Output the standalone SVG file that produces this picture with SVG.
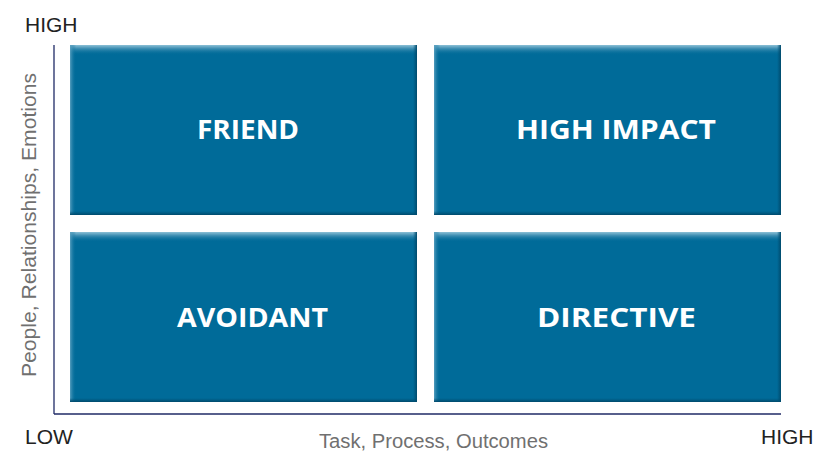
<svg xmlns="http://www.w3.org/2000/svg" width="827" height="451" viewBox="0 0 827 451">
  <defs>
    <linearGradient id="topBevel" x1="0" y1="0" x2="0" y2="1">
      <stop offset="0" stop-color="#8cc0d6"/>
      <stop offset="0.35" stop-color="#3f8fb3"/>
      <stop offset="1" stop-color="#006b99" stop-opacity="0"/>
    </linearGradient>
    <linearGradient id="leftBevel" x1="0" y1="0" x2="1" y2="0">
      <stop offset="0" stop-color="#5fa3c2" stop-opacity="0.9"/>
      <stop offset="1" stop-color="#006b99" stop-opacity="0"/>
    </linearGradient>
    <linearGradient id="bottomBevel" x1="0" y1="0" x2="0" y2="1">
      <stop offset="0" stop-color="#004f73" stop-opacity="0"/>
      <stop offset="1" stop-color="#004a6c"/>
    </linearGradient>
    <linearGradient id="rightBevel" x1="0" y1="0" x2="1" y2="0">
      <stop offset="0" stop-color="#004f73" stop-opacity="0"/>
      <stop offset="1" stop-color="#004a6c"/>
    </linearGradient>
    <symbol id="tile" viewBox="0 0 347 170" width="347" height="170">
      <rect x="0" y="0" width="347" height="170" fill="#006b99"/>
      <rect x="0" y="0" width="347" height="10" fill="url(#topBevel)"/>
      <rect x="0" y="0" width="6" height="170" fill="url(#leftBevel)"/>
      <rect x="0" y="166" width="347" height="4" fill="url(#bottomBevel)"/>
      <rect x="343" y="0" width="4" height="170" fill="url(#rightBevel)"/>
    </symbol>
  </defs>
  <style>
    .label { font-family: "Open Sans", "Liberation Sans", sans-serif; font-weight: bold; font-size: 27px; fill: #ffffff; text-anchor: middle; }
    .end { font-family: "Liberation Sans", Arial, sans-serif; font-size: 21px; fill: #222222; }
    .axisTitle { font-family: "Liberation Sans", Arial, sans-serif; font-size: 19.5px; fill: #707070; text-anchor: middle; }
    .axis { stroke: #1f2a66; stroke-width: 1.3; fill: none; }
  </style>

  <rect width="827" height="451" fill="#ffffff"/>

  <!-- axes -->
  <g id="axes">
    <line class="axis" x1="54" y1="45" x2="54" y2="414"/>
    <line class="axis" x1="54" y1="414" x2="781" y2="414"/>
  </g>

  <!-- quadrants -->
  <g id="friend">
    <use href="#tile" x="70" y="45"/>
    <text class="label" x="248" y="139" textLength="102" lengthAdjust="spacingAndGlyphs">FRIEND</text>
  </g>
  <g id="high-impact">
    <use href="#tile" x="434" y="45"/>
    <text class="label" x="616" y="139" textLength="200" lengthAdjust="spacingAndGlyphs">HIGH IMPACT</text>
  </g>
  <g id="avoidant">
    <use href="#tile" x="70" y="232"/>
    <text class="label" x="252.5" y="327" textLength="151" lengthAdjust="spacingAndGlyphs">AVOIDANT</text>
  </g>
  <g id="directive">
    <use href="#tile" x="434" y="232"/>
    <text class="label" x="616.5" y="327" textLength="159" lengthAdjust="spacingAndGlyphs">DIRECTIVE</text>
  </g>

  <!-- axis labels -->
  <g id="axis-labels">
    <text class="end" x="25" y="32">HIGH</text>
    <text class="end" x="25" y="444">LOW</text>
    <text class="end" x="761" y="444">HIGH</text>
    <text class="axisTitle" x="433.5" y="448" textLength="229" lengthAdjust="spacingAndGlyphs">Task, Process, Outcomes</text>
    <text class="axisTitle" transform="translate(36 225) rotate(-90)" textLength="304" lengthAdjust="spacingAndGlyphs">People, Relationships, Emotions</text>
  </g>
</svg>
